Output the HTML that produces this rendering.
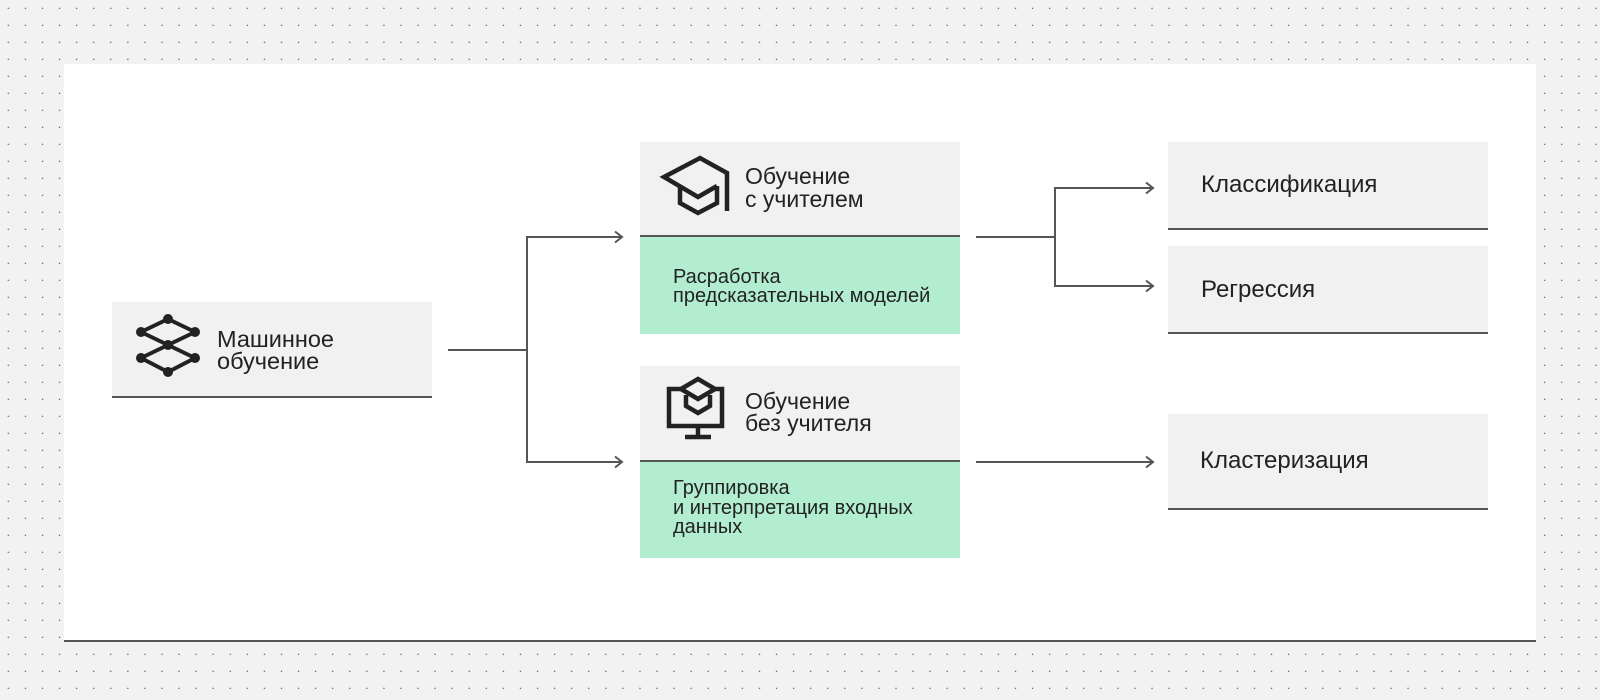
<!DOCTYPE html>
<html>
<head>
<meta charset="utf-8">
<style>
  html, body { margin: 0; padding: 0; background: #f2f2f2; }
  body { width: 1600px; height: 700px; overflow: hidden; }
  svg { display: block; }
  text { font-family: "Liberation Sans", "Noto Sans CJK SC", sans-serif; fill: #222; }
</style>
</head>
<body>
<svg width="1600" height="700" viewBox="0 0 1600 700" xmlns="http://www.w3.org/2000/svg">
  <defs>
    <pattern id="dots" x="0" y="0" width="17.07" height="17" patternUnits="userSpaceOnUse">
      <rect x="7.7" y="7.7" width="1.3" height="1.3" fill="#6a6a6a"/>
    </pattern>
  </defs>
  <rect x="0" y="0" width="1600" height="700" fill="#f2f2f2"/>
  <rect x="0" y="0" width="1600" height="700" fill="url(#dots)"/>

  <!-- panel -->
  <rect x="64" y="64" width="1472" height="577" fill="#ffffff"/>
  <rect x="64" y="640" width="1472" height="2" fill="#555555"/>

  <!-- Box A -->
  <rect x="112" y="302" width="320" height="94" fill="#f1f1f1"/>
  <rect x="112" y="396" width="320" height="2" fill="#555555"/>
  <g stroke="#222" stroke-width="4" fill="none" stroke-linejoin="round">
    <path d="M141,332 L168,319 L195,332 L168,345 Z"/>
    <path d="M141,358 L168,345 L195,358 L168,372 Z"/>
  </g>
  <g fill="#222">
    <circle cx="168" cy="319" r="5"/>
    <circle cx="141" cy="332" r="5"/>
    <circle cx="195" cy="332" r="5"/>
    <circle cx="168" cy="345" r="5"/>
    <circle cx="141" cy="358" r="5"/>
    <circle cx="195" cy="358" r="5"/>
    <circle cx="168" cy="372" r="5"/>
  </g>
  <text x="217" y="347" font-size="23.5">Машинное</text>
  <text x="217" y="369" font-size="23.5">обучение</text>

  <!-- Box B -->
  <rect x="640" y="142" width="320" height="93" fill="#f1f1f1"/>
  <rect x="640" y="235" width="320" height="2" fill="#555555"/>
  <rect x="640" y="237" width="320" height="97" fill="#b2edd0"/>
  <g stroke="#222" stroke-width="4.5" fill="none" stroke-linejoin="miter">
    <path d="M727,211 V173 L700,158 L664,177 L698,197 L717,186"/>
    <path d="M680,186 V203 L698,213 L717,203 V186"/>
  </g>
  <text x="745" y="184" font-size="23">Обучение</text>
  <text x="745" y="207" font-size="23">с учителем</text>
  <text x="673" y="283" font-size="20">Расработка</text>
  <text x="673" y="302" font-size="20">предсказательных моделей</text>

  <!-- Box C -->
  <rect x="640" y="366" width="320" height="94" fill="#f1f1f1"/>
  <rect x="640" y="460" width="320" height="2" fill="#555555"/>
  <rect x="640" y="462" width="320" height="96" fill="#b2edd0"/>
  <g stroke="#222" stroke-width="4.5" fill="none" stroke-linejoin="miter">
    <path d="M669,426 V389 L681,389 L698,379 L715,389 L722,389 V426 Z"/>
    <path d="M681,389 L698,399 L715,389"/>
    <path d="M686,395 V406 L698,413 L710,406 V395"/>
    <path d="M698,426 V437"/>
    <path d="M685,437 H711"/>
  </g>
  <text x="745" y="409" font-size="23">Обучение</text>
  <text x="745" y="431" font-size="23">без учителя</text>
  <text x="673" y="494" font-size="20">Группировка</text>
  <text x="673" y="514" font-size="20">и интерпретация входных</text>
  <text x="673" y="533" font-size="20">данных</text>

  <!-- Right boxes -->
  <rect x="1168" y="142" width="320" height="86" fill="#f1f1f1"/>
  <rect x="1168" y="228" width="320" height="2" fill="#555555"/>
  <text x="1201" y="192" font-size="24">Классификация</text>

  <rect x="1168" y="246" width="320" height="86" fill="#f1f1f1"/>
  <rect x="1168" y="332" width="320" height="2" fill="#555555"/>
  <text x="1201" y="297" font-size="24">Регрессия</text>

  <rect x="1168" y="414" width="320" height="94" fill="#f1f1f1"/>
  <rect x="1168" y="508" width="320" height="2" fill="#555555"/>
  <text x="1200" y="468" font-size="24">Кластеризация</text>

  <!-- connectors -->
  <g stroke="#555555" stroke-width="2" fill="none">
    <path d="M448,350 H527"/>
    <path d="M527,237 V462"/>
    <path d="M526,237 H622"/>
    <path d="M526,462 H622"/>
    <path d="M615,231.5 L622,237 L615,242.5"/>
    <path d="M615,456.5 L622,462 L615,467.5"/>

    <path d="M976,237 H1055"/>
    <path d="M1055,188 V286"/>
    <path d="M1054,188 H1153"/>
    <path d="M1054,286 H1153"/>
    <path d="M1146,182.5 L1153,188 L1146,193.5"/>
    <path d="M1146,280.5 L1153,286 L1146,291.5"/>

    <path d="M976,462 H1153"/>
    <path d="M1146,456.5 L1153,462 L1146,467.5"/>
  </g>
</svg>
</body>
</html>
